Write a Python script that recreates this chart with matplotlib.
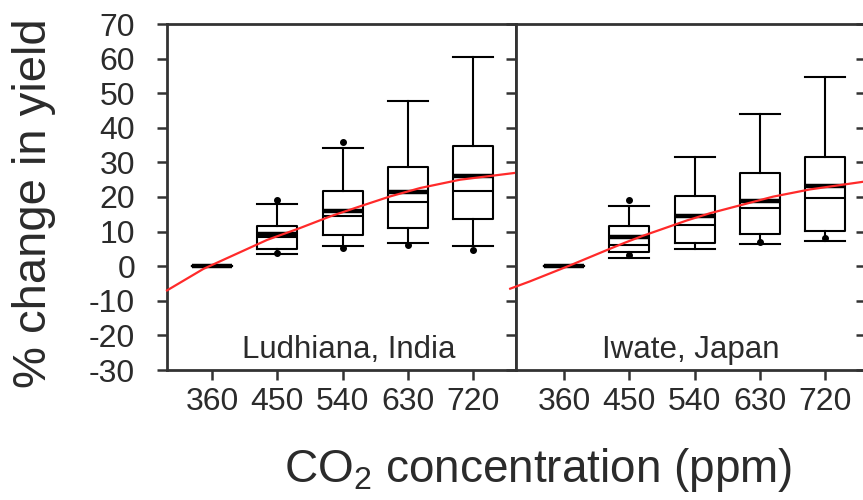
import numpy as np
import matplotlib
matplotlib.use("Agg")
from matplotlib import pyplot as plt

plt.rcParams["font.family"] = "Liberation Sans"
plt.rcParams["mathtext.fontset"] = "custom"
plt.rcParams["mathtext.rm"] = "Liberation Sans"
plt.rcParams["mathtext.default"] = "regular"
plt.rcParams["axes.unicode_minus"] = False

# CO2 levels (ppm) on the x axis
co2 = [360, 450, 540, 630, 720]
y_ticks = [-30, -20, -10, 0, 10, 20, 30, 40, 50, 60, 70]

# Ludhiana, India - box statistics (% change in yield)
lud_whislo = [0, 3.5, 5.8, 6.6, 5.8]
lud_q1 = [0, 4.9, 9.0, 11.1, 13.6]
lud_med = [0, 8.4, 14.5, 18.6, 21.8]
lud_mean = [0, 9.3, 16.0, 21.4, 26.1]
lud_q3 = [0, 11.6, 21.6, 28.6, 34.7]
lud_whishi = [0, 18.0, 34.1, 47.8, 60.5]
lud_fliers = [[], [3.8, 19.1], [5.2, 36.0], [6.1], [4.7]]

# Iwate, Japan
iwa_whislo = [0, 2.4, 4.9, 6.3, 7.3]
iwa_q1 = [0, 4.2, 6.6, 9.3, 10.3]
iwa_med = [0, 6.1, 11.9, 16.7, 19.6]
iwa_mean = [0, 8.5, 14.6, 18.9, 23.2]
iwa_q3 = [0, 11.6, 20.3, 27.0, 31.6]
iwa_whishi = [0, 17.4, 31.6, 43.9, 54.6]
iwa_fliers = [[], [3.2, 19.1], [], [7.1], [8.1]]

# red fitted curves
lud_fit_co2 = [298, 348, 436, 481, 523, 564, 606, 647, 702, 779]
lud_fit = [-7.0, -0.8, 7.6, 11.0, 14.4, 17.3, 20.2, 22.6, 25.0, 27.0]
iwa_fit_co2 = [286, 313, 368, 423, 444, 469, 529, 561, 648, 699, 772]
iwa_fit = [-6.5, -4.4, 0.2, 5.0, 6.8, 8.8, 13.2, 15.3, 20.1, 22.2, 24.4]

TXT = "#2b2b2b"
SPINE = "#333333"


def make_stats(wlo, q1, med, mean, q3, whi, fliers):
    out = []
    for i in range(len(co2)):
        out.append(dict(whislo=wlo[i], q1=q1[i], med=med[i], mean=mean[i],
                        q3=q3[i], whishi=whi[i], fliers=fliers[i]))
    return out


def draw_panel(ax, stats, fit_x, fit_y, name, name_x, xlim):
    ax.bxp(stats, positions=co2, widths=55, capwidths=55,
           showmeans=True, meanline=True, manage_ticks=False,
           boxprops=dict(color="black", lw=1.5),
           whiskerprops=dict(color="black", lw=1.5),
           capprops=dict(color="black", lw=1.5),
           medianprops=dict(color="black", lw=1.5),
           meanprops=dict(color="black", lw=3.2, ls="-"),
           flierprops=dict(marker="o", markersize=4, markerfacecolor="black",
                           markeredgecolor="black"))
    ax.plot(fit_x, fit_y, color="#ff2a2a", lw=1.6, clip_on=False, zorder=4)
    ax.set_xlim(xlim)
    ax.set_ylim(-30, 70)
    ax.set_xticks(co2)
    ax.set_xticklabels([str(c) for c in co2])
    ax.set_yticks(y_ticks)
    ax.tick_params(axis="x", direction="out", length=7, width=1.8, pad=5,
                   labelsize=23, labelcolor=TXT, color=SPINE, top=False)
    for s in ax.spines.values():
        s.set_linewidth(2)
        s.set_color(SPINE)
    ax.text(name_x, 0.036, name, transform=ax.transAxes, ha="center",
            va="baseline", fontsize=22.5, color=TXT)


fig = plt.figure(figsize=(8.63, 5.0), dpi=100)
ax1 = fig.add_axes([167 / 863, 130 / 500, 349 / 863, 346 / 500])
ax2 = fig.add_axes([516 / 863, 130 / 500, 350 / 863, 346 / 500])

draw_panel(ax1, make_stats(lud_whislo, lud_q1, lud_med, lud_mean, lud_q3, lud_whishi, lud_fliers),
           lud_fit_co2, lud_fit, "Ludhiana, India", 0.52, (298, 779))
draw_panel(ax2, make_stats(iwa_whislo, iwa_q1, iwa_med, iwa_mean, iwa_q3, iwa_whishi, iwa_fliers),
           iwa_fit_co2, iwa_fit, "Iwate, Japan", 0.50, (294, 776))

# left panel: labels + outward ticks on the left, inward ticks on the right
ax1.tick_params(axis="y", direction="out", length=7, width=1.8, pad=16,
                labelsize=23, labelcolor=TXT, color=SPINE, left=True, right=False)
sec = ax1.secondary_yaxis("right")
sec.set_yticks(y_ticks)
sec.tick_params(direction="in", length=7, width=1.8, color=SPINE,
                labelright=False, labelleft=False)
sec.spines["right"].set_linewidth(2)
sec.spines["right"].set_color(SPINE)

# right panel: inward ticks on the right only
ax2.tick_params(axis="y", direction="in", length=7, width=1.8, color=SPINE,
                left=False, right=True, labelleft=False, labelright=False)

fig.text(34.5 / 863, 1 - 203 / 500, "% change in yield", rotation=90,
         ha="center", va="center", fontsize=34, color=TXT)
fig.text(538 / 863, 0.036, "CO$_2$ concentration (ppm)", ha="center",
         va="baseline", fontsize=33, color=TXT)

fig.savefig("out.png", dpi=100)
